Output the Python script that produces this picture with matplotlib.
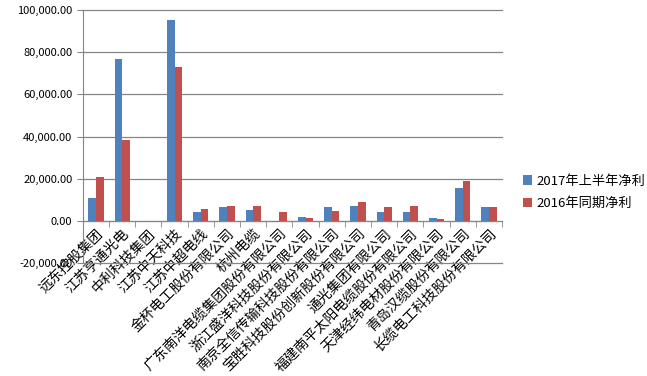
import numpy as np
import matplotlib.pyplot as plt
from matplotlib.ticker import FuncFormatter, FixedLocator

plt.rcParams['font.family'] = ['Noto Sans CJK SC', 'DejaVu Sans']

companies = ['远东控股集团', '江苏亨通光电', '中利科技集团', '江苏中天科技', '江苏中超电线',
             '金杯电工股份有限公司', '杭州电缆', '广东南洋电缆集团股份有限公司',
             '浙江盛洋科技股份有限公司', '南京全信传输科技股份有限公司',
             '宝胜科技股份创新股份有限公司', '通光集团有限公司', '福建南平太阳电缆股份有限公司',
             '天津经纬电材股份有限公司', '青岛汉缆股份有限公司', '长缆电工科技股份有限公司']
profit_2017h1 = [10800, 76800, 0, 95300, 4300, 6600, 5200, -500, 1900, 6600, 7100, 4300, 4300, 1400, 15600, 6600]
profit_2016 = [20800, 38400, 0, 73000, 5700, 7100, 7100, 4300, 1400, 4700, 9000, 6600, 7100, 900, 19000, 6600]

blue = '#4F81BD'
red = '#C0504D'
grey = '#868686'

fig = plt.figure(figsize=(6.47, 3.76), dpi=100)
ax = fig.add_axes([0.128, 0.3005, 0.648, 0.6725])

x = np.arange(len(companies))
w = 0.29
ax.bar(x - w/2, profit_2017h1, w, color=blue, label='2017年上半年净利', zorder=3)
ax.bar(x + w/2, profit_2016, w, color=red, label='2016年同期净利', zorder=3)

ax.set_xlim(-0.5, len(companies) - 0.5)
ax.set_ylim(-20000, 100000)
ax.set_yticks(np.arange(-20000, 100001, 20000))
ax.yaxis.set_major_formatter(FuncFormatter(lambda v, p: '{:,.2f}'.format(v)))
ax.yaxis.grid(True, color=grey, linewidth=0.9, zorder=0)
for gl in ax.get_ygridlines():
    gl.set_clip_on(False)

for s in ['top', 'right']:
    ax.spines[s].set_visible(False)
ax.spines['left'].set_color(grey)
ax.spines['bottom'].set_color(grey)
ax.spines['bottom'].set_position(('data', 0))

ax.set_xticks(x)
ax.set_xticklabels(companies, rotation=45, ha='right', va='top', rotation_mode='anchor',
                   fontsize=10)
ax.tick_params(axis='x', which='major', length=0, pad=4)
ax.xaxis.set_minor_locator(FixedLocator(np.arange(-0.5, len(companies), 1.0)))
ax.tick_params(axis='x', which='minor', length=4, color=grey)
ax.tick_params(axis='y', length=4, color=grey, labelsize=8)

fig.legend(loc='center left', bbox_to_anchor=(0.79, 0.489), frameon=False,
           fontsize=9.5, handlelength=0.7, handleheight=0.7, handletextpad=0.3,
           labelspacing=0.7)

fig.savefig('out.png', dpi=100)
